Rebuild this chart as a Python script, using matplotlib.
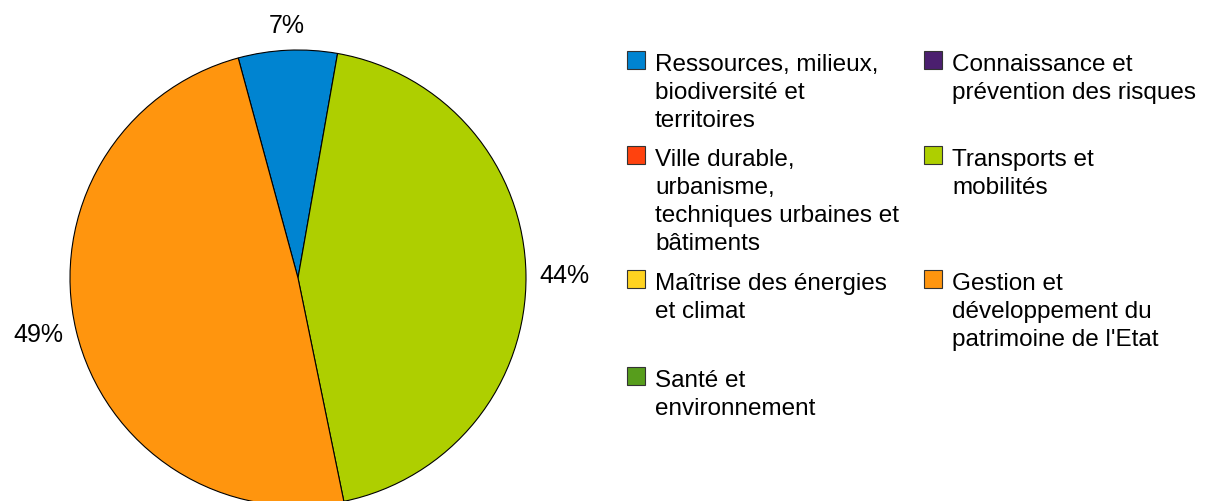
import numpy as np
import matplotlib
matplotlib.use("Agg")
import matplotlib.pyplot as plt
from matplotlib.patches import Rectangle

plt.rcParams['font.family'] = ['Liberation Sans', 'DejaVu Sans']

# Budget share by theme (percent)
categories = [
    "Ressources, milieux,\nbiodiversité et\nterritoires",
    "Connaissance et\nprévention des risques",
    "Ville durable,\nurbanisme,\ntechniques urbaines et\nbâtiments",
    "Transports et\nmobilités",
    "Maîtrise des énergies\net climat",
    "Gestion et\ndéveloppement du\npatrimoine de l'Etat",
    "Santé et\nenvironnement",
]
values = [7, 0, 0, 44, 0, 49, 0]
colors = ["#0084d1", "#4b1f6f", "#ff420e", "#aecf00", "#ffd320", "#ff950e", "#579d1c"]

W, H = 1206, 502
fig = plt.figure(figsize=(W / 100, H / 100), dpi=100)

# Pie geometry in pixels
cx, cy, r = 298, 279, 228
ax = fig.add_axes([(cx - r) / W, (H - cy - r) / H, 2 * r / W, 2 * r / H])

nz = [i for i, v in enumerate(values) if v > 0]
pie_vals = [values[i] for i in nz]
pie_cols = [colors[i] for i in nz]
wedges, _ = ax.pie(
    pie_vals, colors=pie_cols, startangle=105.2, counterclock=False, radius=1,
    wedgeprops=dict(edgecolor="black", linewidth=0.8),
)
for w in wedges:
    w.set_clip_on(False)
ax.set_xlim(-1, 1)
ax.set_ylim(-1, 1)
ax.set_aspect('equal')
ax.axis('off')

# Percentage labels placed just outside each wedge, anchored by direction
gap = 13 / r
for w, v in zip(wedges, pie_vals):
    mid = np.deg2rad((w.theta1 + w.theta2) / 2)
    c, s = np.cos(mid), np.sin(mid)
    ha = 'left' if c > 0.5 else ('right' if c < -0.5 else 'center')
    va = 'bottom' if s > 0.5 else ('top' if s < -0.5 else 'center')
    ax.text((1 + gap) * c, (1 + gap) * s, f"{v / sum(pie_vals) * 100:.0f}%",
            ha=ha, va=va, fontsize=18, color="black", clip_on=False)

# Legend drawn as two row-aligned columns
col_x = [627, 924]
row_tops = [52, 147, 271, 368]
line_h = 28
sq = 18
fs = 17.5
for k, (lab, col) in enumerate(zip(categories, colors)):
    row, c = divmod(k, 2)
    x0 = col_x[c]
    y0 = row_tops[row]
    fig.patches.append(Rectangle((x0 / W, (H - y0 - sq) / H), sq / W, sq / H,
                                 transform=fig.transFigure, facecolor=col,
                                 edgecolor="#333333", linewidth=0.8))
    for j, line in enumerate(lab.split("\n")):
        fig.text((x0 + 28) / W, (H - (y0 + 19 + j * line_h)) / H, line,
                 fontsize=fs, color="black", ha="left", va="baseline")

fig.savefig("out.png", dpi=100)
